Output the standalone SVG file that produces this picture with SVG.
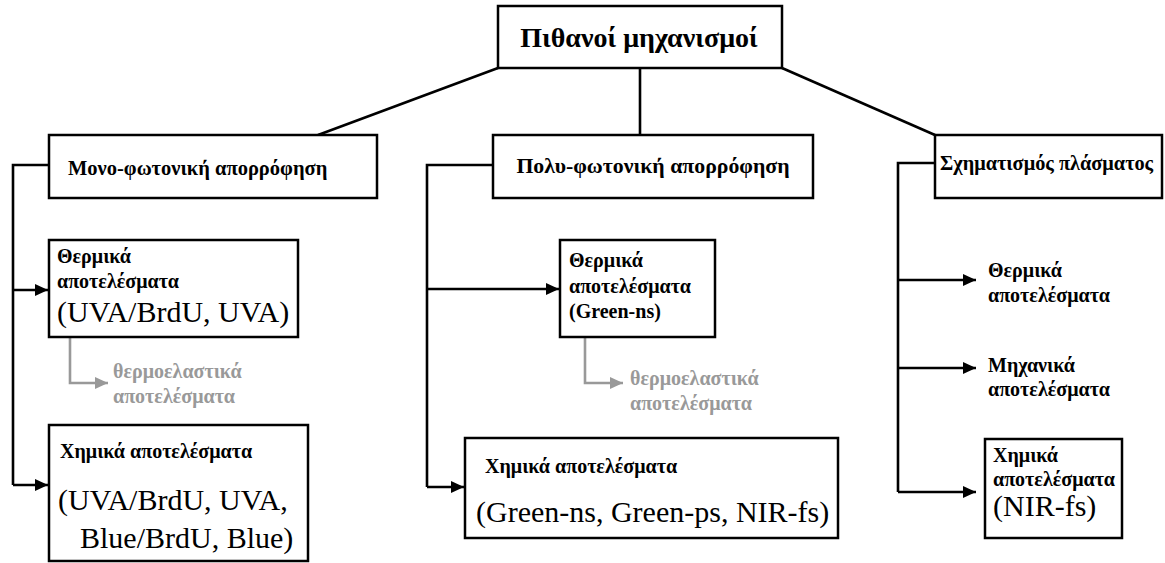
<svg xmlns="http://www.w3.org/2000/svg" width="1165" height="563" viewBox="0 0 1165 563">
<style>
.box{fill:#fff;stroke:#000;stroke-width:2.5}
.ln{fill:none;stroke:#000;stroke-width:2.6}
.gl{fill:none;stroke:#999;stroke-width:2.6}
.t{font-family:'Liberation Serif','Times New Roman',serif;fill:#000}
.b{font-weight:bold}
.s{font-weight:bold;font-size:20px}
.g{font-weight:bold;font-size:20px;fill:#999}
.L{font-size:30px}
</style>
<defs>
<marker id="ah" markerUnits="userSpaceOnUse" markerWidth="14" markerHeight="14" refX="13" refY="7" orient="auto">
<path d="M0,1 L13,7 L0,13 Z" fill="#000"/>
</marker>
<marker id="ahg" markerUnits="userSpaceOnUse" markerWidth="14" markerHeight="14" refX="13" refY="7" orient="auto">
<path d="M0,1 L13,7 L0,13 Z" fill="#999"/>
</marker>
</defs>
<g id="connectors">
<line class="ln" x1="498" y1="68" x2="318" y2="135"/>
<line class="ln" x1="640" y1="68" x2="640" y2="135"/>
<line class="ln" x1="782" y1="68" x2="935" y2="135"/>
<polyline class="ln" points="49,165 13,165 13,485"/>
<line class="ln" x1="13" y1="290" x2="48" y2="290" marker-end="url(#ah)"/>
<line class="ln" x1="13" y1="485" x2="48" y2="485" marker-end="url(#ah)"/>
<polyline class="gl" points="70,337 70,383 108,383" marker-end="url(#ahg)"/>
<polyline class="ln" points="493,165 427,165 427,487"/>
<line class="ln" x1="427" y1="289" x2="559" y2="289" marker-end="url(#ah)"/>
<line class="ln" x1="427" y1="487" x2="464" y2="487" marker-end="url(#ah)"/>
<polyline class="gl" points="585,337 585,383 623,383" marker-end="url(#ahg)"/>
<polyline class="ln" points="935,163 898,163 898,492"/>
<line class="ln" x1="898" y1="280" x2="976" y2="280" marker-end="url(#ah)"/>
<line class="ln" x1="898" y1="368" x2="976" y2="368" marker-end="url(#ah)"/>
<line class="ln" x1="898" y1="492" x2="976" y2="492" marker-end="url(#ah)"/>
</g>
<g id="root">
<rect class="box" x="498" y="6" width="284" height="62"/>
<text class="t b" x="639" y="47" font-size="28" text-anchor="middle">Πιθανοί μηχανισμοί</text>
</g>
<g id="mono">
<rect class="box" x="49" y="135" width="328" height="63"/>
<text class="t b" x="68" y="175" font-size="20.5">Μονο-φωτονική απορρόφηση</text>
</g>
<g id="mono-thermal">
<rect class="box" x="49" y="240" width="249" height="97"/>
<text class="t s" x="57" y="263">Θερμικά</text>
<text class="t s" x="57" y="288">αποτελέσματα</text>
<text class="t L" x="57" y="322">(UVA/BrdU, UVA)</text>
</g>
<g id="mono-thermoelastic">
<text class="t g" x="113" y="378">θερμοελαστικά</text>
<text class="t g" x="113" y="403">αποτελέσματα</text>
</g>
<g id="mono-chemical">
<rect class="box" x="49" y="425" width="259" height="136"/>
<text class="t s" x="60" y="458">Χημικά αποτελέσματα</text>
<text class="t L" x="58" y="510">(UVA/BrdU, UVA,</text>
<text class="t L" x="80" y="548">Blue/BrdU, Blue)</text>
</g>
<g id="multi">
<rect class="box" x="493" y="135" width="320" height="63"/>
<text class="t b" x="653" y="173" font-size="21.8" text-anchor="middle">Πολυ-φωτονική απορρόφηση</text>
</g>
<g id="multi-thermal">
<rect class="box" x="560" y="240" width="155" height="97"/>
<text class="t s" x="569" y="267">Θερμικά</text>
<text class="t s" x="569" y="293">αποτελέσματα</text>
<text class="t s" x="569" y="318">(Green-ns)</text>
</g>
<g id="multi-thermoelastic">
<text class="t g" x="630" y="385">θερμοελαστικά</text>
<text class="t g" x="630" y="410">αποτελέσματα</text>
</g>
<g id="multi-chemical">
<rect class="box" x="465" y="438" width="373" height="100"/>
<text class="t s" x="485" y="473">Χημικά αποτελέσματα</text>
<text class="t L" x="476" y="522">(Green-ns, Green-ps, NIR-fs)</text>
</g>
<g id="plasma">
<rect class="box" x="935" y="135" width="227" height="63"/>
<text class="t b" x="940" y="170" font-size="20.3">Σχηματισμός πλάσματος</text>
</g>
<g id="plasma-thermal">
<text class="t s" x="988" y="277">Θερμικά</text>
<text class="t s" x="988" y="302">αποτελέσματα</text>
</g>
<g id="plasma-mechanical">
<text class="t s" x="988" y="372">Μηχανικά</text>
<text class="t s" x="988" y="396">αποτελέσματα</text>
</g>
<g id="plasma-chemical">
<rect class="box" x="985" y="439" width="137" height="99"/>
<text class="t s" x="993" y="462">Χημικά</text>
<text class="t s" x="993" y="486">αποτελέσματα</text>
<text class="t L" x="993" y="516">(NIR-fs)</text>
</g>
</svg>
